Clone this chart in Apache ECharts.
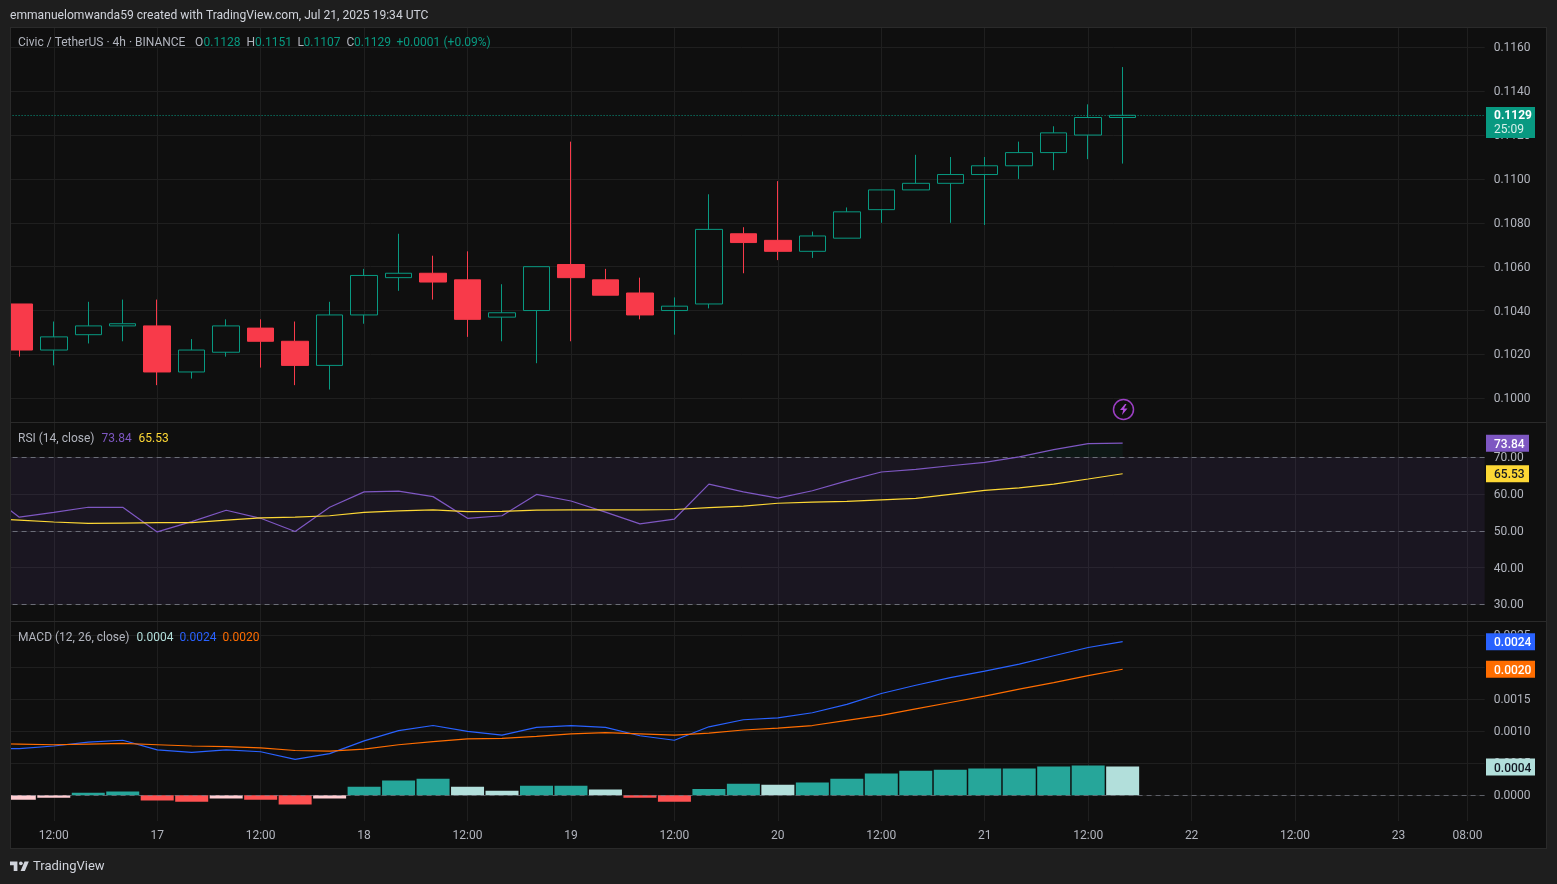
<!DOCTYPE html>
<html lang="en">

<head>
    <meta charset="UTF-8">
    <script src="https://cdn.jsdelivr.net/npm/echarts@6/dist/echarts.min.js"></script>
    <title>Civic / TetherUS</title>
    <style>
        html, body { margin: 0; padding: 0; background: #1e1e1e; overflow: hidden; }
    </style>
</head>

<body>
    <div id="main" style="width: 1557px; height: 884px;"></div>

    <script>
        // 4h bars, first one sits just off the left edge (indicators only)
        var categories = [
            '07-16 04:00', '07-16 08:00', '07-16 12:00', '07-16 16:00', '07-16 20:00',
            '07-17 00:00', '07-17 04:00', '07-17 08:00', '07-17 12:00', '07-17 16:00', '07-17 20:00',
            '07-18 00:00', '07-18 04:00', '07-18 08:00', '07-18 12:00', '07-18 16:00', '07-18 20:00',
            '07-19 00:00', '07-19 04:00', '07-19 08:00', '07-19 12:00', '07-19 16:00', '07-19 20:00',
            '07-20 00:00', '07-20 04:00', '07-20 08:00', '07-20 12:00', '07-20 16:00', '07-20 20:00',
            '07-21 00:00', '07-21 04:00', '07-21 08:00', '07-21 12:00', '07-21 16:00', '07-21 20:00',
            '07-22 00:00', '07-22 04:00', '07-22 08:00', '07-22 12:00', '07-22 16:00', '07-22 20:00',
            '07-23 00:00', '07-23 04:00', '07-23 08:00'
        ];
        var tickCategories = ['07-16 12:00', '07-17 00:00', '07-17 12:00', '07-18 00:00', '07-18 12:00',
            '07-19 00:00', '07-19 12:00', '07-20 00:00', '07-20 12:00', '07-21 00:00', '07-21 12:00',
            '07-22 00:00', '07-22 12:00', '07-23 00:00', '07-23 08:00'];
        var tickLabels = ['12:00', '17', '12:00', '18', '12:00', '19', '12:00', '20', '12:00', '21', '12:00',
            '22', '12:00', '23', '08:00'];

        var opens = [null, .1043, .1022, .1029, .1033, .1033, .1012, .1021, .1032, .1026, .1015, .1038,
            .1055, .1057, .1054, .1037, .1040, .1061, .1054, .1048, .1040, .1043, .1075, .1072, .1067,
            .1073, .1086, .1095, .1098, .1102, .1106, .1112, .1120, .1128];
        var closes = [null, .1022, .1028, .1033, .1034, .1012, .1022, .1033, .1026, .1015, .1038, .1056,
            .1057, .1053, .1036, .1039, .1060, .1055, .1047, .1038, .1042, .1077, .1071, .1067, .1074,
            .1085, .1095, .1098, .1102, .1106, .1112, .1121, .1128, .1129];
        var lows = [null, .1019, .1015, .1025, .1026, .1006, .1009, .1019, .1014, .1006, .1004, .1034,
            .1049, .1045, .1028, .1026, .1016, .1026, .1047, .1036, .1029, .1041, .1057, .1063, .1064,
            .1073, .1080, .1095, .1080, .1079, .1100, .1104, .1109, .1107];
        var highs = [null, .1043, .1035, .1044, .1045, .1045, .1027, .1036, .1036, .1035, .1044, .1059,
            .1075, .1065, .1067, .1052, .1060, .1117, .1059, .1055, .1046, .1093, .1078, .1099, .1076,
            .1087, .1095, .1111, .1110, .1110, .1117, .1124, .1134, .1151];

        var rsi = [60.9, 53.7, 55.0, 56.4, 56.4, 49.7, 52.5, 55.6, 53.4, 49.8, 56.4, 60.6, 60.8, 59.3, 53.4,
            54.1, 59.9, 58.1, 55.1, 51.9, 53.2, 62.7, 60.6, 58.9, 60.9, 63.6, 66.0, 66.7, 67.7, 68.6, 70.1,
            72.1, 73.7, 73.84];
        var rsiMa = [53.4, 52.9, 52.4, 52.0, 52.1, 52.2, 52.2, 52.9, 53.5, 53.7, 54.1, 55.0, 55.4, 55.7, 55.2,
            55.3, 55.6, 55.7, 55.7, 55.7, 55.8, 56.3, 56.7, 57.5, 57.8, 58.0, 58.4, 58.8, 59.9, 61.0, 61.7,
            62.7, 64.1, 65.53];

        var macdLine = [.00073, .00073, .00077, .00083, .00086, .00071, .00067, .00071, .00068, .00056, .00065,
            .00085, .00101, .00109, .00100, .00094, .00106, .00109, .00106, .00093, .00086, .00107, .00118,
            .00121, .00129, .00142, .00159, .00172, .00184, .00194, .00205, .00218, .00231, .00240];
        var signalLine = [.00081, .00080, .00079, .00080, .00081, .00079, .00077, .00076, .00074, .00070, .00069,
            .00072, .00079, .00084, .00088, .00089, .00092, .00096, .00098, .00096, .00094, .00097, .00102,
            .00105, .00109, .00117, .00125, .00135, .00145, .00155, .00166, .00176, .00187, .00197];
        var macdHist = [-.00009, -.00007, -.00004, .00004, .00006, -.00008, -.0001, -.00005, -.00007, -.000145,
            -.00005, .000135, .00023, .00026, .000135, .00007, .00015, .00015, .00009, -.00004, -.0001, .0001,
            .00018, .000165, .0002, .00026, .00034, .000385, .0004, .000417, .000417, .00045, .000465, .00045];

        var priceTicks = [.1000, .1020, .1040, .1060, .1080, .1100, .1120, .1140, .1160];
        var rsiTicks = [30, 40, 50, 60, 70];
        var rsiBands = [70, 50, 30];
        var macdTicks = [0, .0005, .001, .0015, .002, .0025];
        var lastPrice = .1129;

        var UP = '#089981', DOWN = '#F83A4A', GRID = '#1f1f1f', AXIS_TEXT = '#b2b5be';
        var FONT = 'Roboto, "Open Sans", sans-serif';
        var BAR = 34.48, PLOT_LEFT = 19.3 - 1.5 * BAR;

        var tickIdx = tickCategories.map(function (c) { return categories.indexOf(c); });

        function xAxis(i, showLabel) {
            return {
                type: 'category', gridIndex: i, data: categories, boundaryGap: true,
                axisLine: { show: false },
                axisTick: { show: false, alignWithLabel: true, customValues: tickIdx },
                splitLine: { show: true, alignWithLabel: true, lineStyle: { color: GRID, width: 1 } },
                axisLabel: {
                    show: showLabel, customValues: tickIdx, color: AXIS_TEXT, fontSize: 12, fontFamily: FONT, margin: 9,
                    formatter: function (v) { return tickLabels[tickCategories.indexOf(v)] || ''; }
                }
            };
        }

        function yAxis(i, lo, hi, ticks, digits) {
            return {
                type: 'value', gridIndex: i, position: 'right', min: lo, max: hi, scale: true,
                axisLine: { show: false },
                axisTick: { show: false, customValues: ticks },
                splitLine: { show: true, lineStyle: { color: GRID, width: 1 } },
                axisLabel: {
                    customValues: ticks, color: AXIS_TEXT, fontSize: 12, fontFamily: FONT, margin: 9,
                    rich: { v: { color: AXIS_TEXT, fontSize: 12, fontFamily: FONT, padding: [2, 0, 0, 0] } },
                    formatter: function (v) { return '{v|' + v.toFixed(digits) + '}'; }
                }
            };
        }

        function line(name, data, color, xi, z) {
            return {
                name: name, type: 'line', xAxisIndex: xi, yAxisIndex: xi, data: data, showSymbol: false,
                symbol: 'none', lineStyle: { color: color, width: 1.2 }, z: z || 5, silent: true
            };
        }

        var rsiSeries = line('RSI', rsi, '#7E57C2', 1, 6);
        rsiSeries.markArea = {
            silent: true, itemStyle: { color: 'rgba(126,87,194,0.1)' },
            data: [[{ yAxis: rsiBands[0] }, { yAxis: rsiBands[2] }]]
        };
        rsiSeries.markLine = {
            silent: true, symbol: 'none', label: { show: false },
            lineStyle: { color: '#787b86', type: [5, 4], width: 1, opacity: 0.85 },
            data: rsiBands.map(function (v) { return { yAxis: v }; })
        };

        var option = {
            animation: false,
            backgroundColor: '#1e1e1e',
            grid: [
                { left: PLOT_LEFT, width: 44 * BAR, top: 28, height: 394, outerBoundsMode: 'none' },
                { left: PLOT_LEFT, width: 44 * BAR, top: 423, height: 198, outerBoundsMode: 'none' },
                { left: PLOT_LEFT, width: 44 * BAR, top: 622, height: 199, outerBoundsMode: 'none' }
            ],
            xAxis: [xAxis(0, false), xAxis(1, false), xAxis(2, true)],
            yAxis: [
                yAxis(0, .09892, .11688, priceTicks, 4),
                yAxis(1, 25.46, 79.33, rsiTicks, 2),
                yAxis(2, -.000402, .002708, macdTicks, 4)
            ],
            series: [
                {
                    name: 'Price', type: 'candlestick', xAxisIndex: 0, yAxisIndex: 0, barWidth: 27, silent: true, z: 5,
                    data: opens.map(function (o, i) { return [o, closes[i], lows[i], highs[i]]; }),
                    itemStyle: { color: 'rgba(0,0,0,0)', color0: DOWN, borderColor: UP, borderColor0: DOWN, borderWidth: 1 },
                    markLine: {
                        silent: true, symbol: 'none', label: { show: false }, precision: 6,
                        lineStyle: { color: UP, type: [1, 2], width: 1 },
                        data: [{ yAxis: lastPrice }]
                    }
                },
                rsiSeries,
                line('RSI MA', rsiMa, '#FDD835', 1, 7),
                {
                    name: 'Overbought', type: 'line', xAxisIndex: 1, yAxisIndex: 1, showSymbol: false, symbol: 'none',
                    data: rsi.map(function (v) { return v > 70 ? v : null; }),
                    lineStyle: { width: 0 }, silent: true,
                    areaStyle: { origin: 70, color: 'rgba(8,153,129,0.1)' }
                },
                {
                    name: 'Histogram', type: 'bar', xAxisIndex: 2, yAxisIndex: 2, data: macdHist, barWidth: 33, silent: true, z: 3,
                    itemStyle: {
                        color: function (p) {
                            var v = p.value, prev = p.dataIndex > 0 ? macdHist[p.dataIndex - 1] : v;
                            if (v >= 0) return v >= prev ? '#26A69A' : '#B2DFDB';
                            return v < prev ? '#FF5252' : '#FFCDD2';
                        }
                    },
                    markLine: {
                        silent: true, symbol: 'none', label: { show: false }, precision: 6,
                        lineStyle: { color: '#787b86', type: [5, 4], width: 1, opacity: 0.7 },
                        data: [{ yAxis: 0 }]
                    }
                },
                line('MACD', macdLine, '#2962FF', 2, 6),
                line('Signal', signalLine, '#FF6D00', 2, 7)
            ]
        };

        var chart = echarts.init(document.getElementById('main'));
        chart.setOption(option);

        function txt(x, y, s, color, extra) {
            var st = { x: x, y: y + 1, text: s, fill: color, font: (extra && extra.font) || ('12px ' + FONT), textVerticalAlign: 'middle' };
            return { type: 'text', z: 70, silent: true, style: st };
        }
        function rect(x, y, w, h, fill, z) {
            return { type: 'rect', z: z, silent: true, shape: { x: x, y: y, width: w, height: h }, style: { fill: fill } };
        }
        // value tag on the price scale, positioned through the pane's own axis
        function tag(pane, value, w, fill, textColor, s) {
            var y = chart.convertToPixel({ yAxisIndex: pane }, value);
            return [rect(1486, y - 8.5, w, 17, fill, 60), txt(1494, y + 0.5, s, textColor, { font: '500 12px ' + FONT })];
        }
        function poly(points, x, y, scale, fill, z) {
            return {
                type: 'polygon', z: z, silent: true, x: x, y: y, scaleX: scale, scaleY: scale,
                shape: { points: points }, style: { fill: fill }
            };
        }

        var els = [
            rect(11, 28, 1535, 820, '#0f0f0f', -10),
            // left gutter hides the part of the grid left of the pane
            rect(0, 0, 10, 884, '#1e1e1e', 50),
            rect(10, 27, 1, 822, '#2a2a2a', 50),
            rect(10, 27, 1537, 1, '#2a2a2a', 50),
            rect(1546, 27, 1, 822, '#2a2a2a', 50),
            rect(10, 848, 1537, 1, '#2a2a2a', 50),
            rect(11, 422, 1535, 1, '#2a2a2a', 50),
            rect(11, 621, 1535, 1, '#2a2a2a', 50),

            txt(10, 15, 'emmanuelomwanda59 created with TradingView.com, Jul 21, 2025 19:34 UTC', '#d1d4dc', { font: '12.1px ' + FONT }),
            txt(18, 41.5, 'Civic / TetherUS · 4h · BINANCE', AXIS_TEXT),
            txt(195, 41.5, 'O', AXIS_TEXT), txt(203.5, 41.5, '0.1128', UP),
            txt(246.5, 41.5, 'H', AXIS_TEXT), txt(255, 41.5, '0.1151', UP),
            txt(297.5, 41.5, 'L', AXIS_TEXT), txt(303.5, 41.5, '0.1107', UP),
            txt(346.5, 41.5, 'C', AXIS_TEXT), txt(354, 41.5, '0.1129', UP),
            txt(396.5, 41.5, '+0.0001', UP), txt(443.5, 41.5, '(+0.09%)', UP),

            txt(18, 437.5, 'RSI (14, close)', AXIS_TEXT),
            txt(101.5, 437.5, '73.84', '#7E57C2'), txt(138.5, 437.5, '65.53', '#FDD835'),
            txt(18, 636.5, 'MACD (12, 26, close)', AXIS_TEXT),
            txt(136.5, 636.5, '0.0004', '#B2DFDB'), txt(179.5, 636.5, '0.0024', '#2962FF'), txt(222.5, 636.5, '0.0020', '#FF6D00'),

            // last price + countdown
            rect(1486, 107, 49, 31, UP, 60),
            txt(1494, 115, '0.1129', '#ffffff', { font: '700 12px ' + FONT }),
            txt(1494, 129, '25:09', '#d6f0ea'),

            // bolt badge
            { type: 'circle', z: 40, silent: true, shape: { cx: 1123.5, cy: 409.5, r: 10 }, style: { fill: 'none', stroke: '#9C3FC4', lineWidth: 1.5 } },
            poly([[5, 0], [0, 6], [3.2, 6], [2, 11], [7.5, 4.5], [4, 4.5], [6.5, 0]], 1120, 404, 1, '#B14BDD', 40),

            // TradingView logo
            poly([[0, 0], [14, 0], [14, 18], [7, 18], [7, 7], [0, 7]], 10, 861.5, 0.53, '#d1d4dc', 70),
            poly([[27.5, 0], [35.5, 0], [28, 18], [20, 18]], 10, 861.5, 0.53, '#d1d4dc', 70),
            { type: 'circle', z: 70, silent: true, shape: { cx: 20.5, cy: 3.5, r: 3.5 }, x: 10, y: 861.5, scaleX: 0.53, scaleY: 0.53, style: { fill: '#d1d4dc' } },
            txt(33, 866, 'TradingView', '#d1d4dc', { font: '13px ' + FONT })
        ];
        els = els.concat(
            tag(1, 73.84, 43, '#7E57C2', '#ffffff', '73.84'),
            tag(1, 65.53, 43, '#FDD835', '#131722', '65.53'),
            tag(2, .0024, 49, '#2962FF', '#ffffff', '0.0024'),
            tag(2, .00197, 49, '#FF6D00', '#ffffff', '0.0020'),
            tag(2, .00044, 49, '#B2DFDB', '#131722', '0.0004')
        );
        chart.setOption({ graphic: { elements: els } });
    </script>
</body>

</html>
